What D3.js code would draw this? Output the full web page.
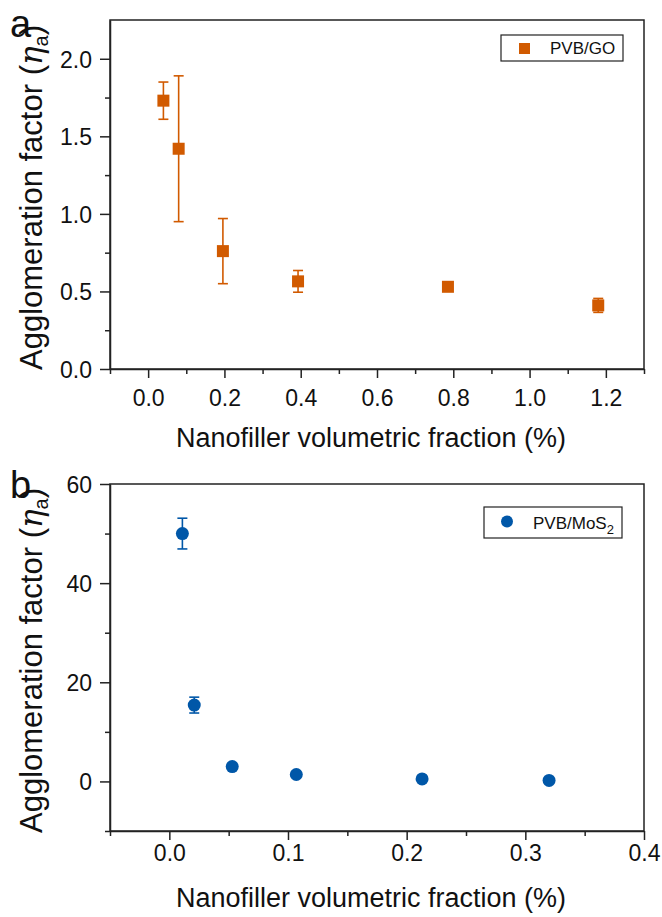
<!DOCTYPE html>
<html>
<head>
<meta charset="utf-8">
<script src="https://cdn.jsdelivr.net/npm/d3@7"></script>
<style>
  body { margin: 0; background: #fff; }
  svg { display: block; font-family: "Liberation Sans", Arial, sans-serif; }
</style>
</head>
<body>
<script>
// panel a: PVB/GO
const goFraction = [0.04, 0.08, 0.196, 0.393, 0.786, 1.18];
const goFactor = [1.73, 1.42, 0.76, 0.565, 0.53, 0.41];
const goError = [0.12, 0.47, 0.21, 0.07, 0.02, 0.045];
const goXTicks = [0, 0.2, 0.4, 0.6, 0.8, 1.0, 1.2];
const goXMinor = [-0.1, 0.1, 0.3, 0.5, 0.7, 0.9, 1.1, 1.3];
const goYTicks = [0, 0.5, 1.0, 1.5, 2.0];
const goYMinor = [0.25, 0.75, 1.25, 1.75];

// panel b: PVB/MoS2
const mosFraction = [0.011, 0.021, 0.053, 0.107, 0.213, 0.32];
const mosFactor = [50, 15.4, 3.0, 1.4, 0.5, 0.2];
const mosError = [3.1, 1.6, 0.5, 0.4, 0.3, 0.3];
const mosXTicks = [0, 0.1, 0.2, 0.3, 0.4];
const mosXMinor = [-0.05, 0.05, 0.15, 0.25, 0.35];
const mosYTicks = [0, 20, 40, 60];
const mosYMinor = [-10, 10, 30, 50];

const W = 662, H = 917;
const svg = d3.select("body").append("svg").attr("width", W).attr("height", H);

drawPanel({
    letter: "a", letterY: 37,
    left: 110, right: 644, top: 20, bottom: 369,
    xDomain: [-0.1, 1.3], yDomain: [0, 2.25],
    xTicks: goXTicks, xMinor: goXMinor, yTicks: goYTicks, yMinor: goYMinor,
    xFormat: d3.format(".1f"), yFormat: d3.format(".1f"),
    xs: goFraction, ys: goFactor, errs: goError,
    color: "#d15a00", shape: "square",
    tickLabelDy: 37, titleDy: 78,
    legend: { x: 501, y: 35, w: 122, h: 26, label: "PVB/GO", sub: null }
});

drawPanel({
    letter: "b", letterY: 498,
    left: 110, right: 644, top: 484, bottom: 831,
    xDomain: [-0.05, 0.4], yDomain: [-10, 60],
    xTicks: mosXTicks, xMinor: mosXMinor, yTicks: mosYTicks, yMinor: mosYMinor,
    xFormat: d3.format(".1f"), yFormat: d3.format("d"),
    xs: mosFraction, ys: mosFactor, errs: mosError,
    color: "#0057a8", shape: "circle",
    tickLabelDy: 30, titleDy: 76,
    legend: { x: 484, y: 507, w: 138, h: 31, label: "PVB/MoS", sub: "2" }
});

function drawPanel(p) {
    const x = d3.scaleLinear().domain(p.xDomain).range([p.left, p.right]);
    const y = d3.scaleLinear().domain(p.yDomain).range([p.bottom, p.top]);
    const g = svg.append("g");

    // frame
    g.append("rect")
        .attr("x", p.left).attr("y", p.top)
        .attr("width", p.right - p.left).attr("height", p.bottom - p.top)
        .attr("fill", "none").attr("stroke", "#222").attr("stroke-width", 1.5);

    // bottom axis
    const xAxis = g.append("g").attr("transform", `translate(0,${p.bottom})`)
        .call(d3.axisBottom(x).tickValues(p.xTicks).tickFormat(p.xFormat).tickSize(9).tickSizeOuter(0));
    g.append("g").attr("transform", `translate(0,${p.bottom})`)
        .call(d3.axisBottom(x).tickValues(p.xMinor).tickFormat("").tickSize(5).tickSizeOuter(0))
        .call(a => a.select(".domain").remove());
    xAxis.selectAll("text").attr("y", p.tickLabelDy).attr("dy", 0);

    // left axis
    const yAxis = g.append("g").attr("transform", `translate(${p.left},0)`)
        .call(d3.axisLeft(y).tickValues(p.yTicks).tickFormat(p.yFormat).tickSize(10).tickSizeOuter(0));
    g.append("g").attr("transform", `translate(${p.left},0)`)
        .call(d3.axisLeft(y).tickValues(p.yMinor).tickFormat("").tickSize(5).tickSizeOuter(0))
        .call(a => a.select(".domain").remove());
    yAxis.selectAll("text").attr("x", -18).attr("dy", "0.36em");

    g.selectAll(".domain").attr("stroke", "#222").attr("stroke-width", 1.5);
    g.selectAll(".tick line").attr("stroke", "#222").attr("stroke-width", 1.5);
    g.selectAll(".tick text").attr("font-size", 23).attr("fill", "#111")
        .attr("font-family", "Liberation Sans, Arial, sans-serif");

    // axis titles
    g.append("text")
        .attr("x", (p.left + p.right) / 2 - 6).attr("y", p.bottom + p.titleDy)
        .attr("text-anchor", "middle").attr("font-size", 27).attr("fill", "#111")
        .text("Nanofiller volumetric fraction (%)");

    const yt = g.append("text")
        .attr("transform", `translate(42,${(p.top + p.bottom) / 2 + 3}) rotate(-90)`)
        .attr("text-anchor", "middle").attr("font-size", 31).attr("fill", "#111");
    yt.append("tspan").text("Agglomeration factor (");
    yt.append("tspan").attr("font-style", "italic").attr("font-family", "DejaVu Serif, serif").text("\u03b7");
    yt.append("tspan").attr("font-size", 20).attr("dy", 6).text("a");
    yt.append("tspan").attr("dy", -6).text(")");

    // panel letter
    g.append("text").attr("x", 10).attr("y", p.letterY)
        .attr("font-size", 38).attr("fill", "#111").text(p.letter);

    // error bars
    const pts = p.xs.map((v, i) => ({ x: v, y: p.ys[i], e: p.errs[i] }));
    const cap = 5;
    const eb = g.append("g").attr("stroke", p.color).attr("stroke-width", 1.6);
    eb.selectAll("line.v").data(pts).join("line").attr("class", "v")
        .attr("x1", d => x(d.x)).attr("x2", d => x(d.x))
        .attr("y1", d => y(d.y - d.e)).attr("y2", d => y(d.y + d.e));
    eb.selectAll("line.t").data(pts).join("line").attr("class", "t")
        .attr("x1", d => x(d.x) - cap).attr("x2", d => x(d.x) + cap)
        .attr("y1", d => y(d.y + d.e)).attr("y2", d => y(d.y + d.e));
    eb.selectAll("line.b").data(pts).join("line").attr("class", "b")
        .attr("x1", d => x(d.x) - cap).attr("x2", d => x(d.x) + cap)
        .attr("y1", d => y(d.y - d.e)).attr("y2", d => y(d.y - d.e));

    // markers
    if (p.shape === "square") {
        g.selectAll("rect.pt").data(pts).join("rect").attr("class", "pt")
            .attr("x", d => x(d.x) - 6).attr("y", d => y(d.y) - 6)
            .attr("width", 12).attr("height", 12).attr("fill", p.color);
    } else {
        g.selectAll("circle.pt").data(pts).join("circle").attr("class", "pt")
            .attr("cx", d => x(d.x)).attr("cy", d => y(d.y))
            .attr("r", 6.5).attr("fill", p.color);
    }

    // legend
    const L = p.legend;
    const lg = g.append("g");
    lg.append("rect").attr("x", L.x).attr("y", L.y).attr("width", L.w).attr("height", L.h)
        .attr("fill", "#fff").attr("stroke", "#222").attr("stroke-width", 1.2);
    const cy = L.y + L.h / 2;
    if (p.shape === "square") {
        lg.append("rect").attr("x", L.x + 18).attr("y", cy - 5).attr("width", 11).attr("height", 11)
            .attr("fill", p.color);
    } else {
        lg.append("circle").attr("cx", L.x + 23).attr("cy", cy - 1).attr("r", 6).attr("fill", p.color);
    }
    const lt = lg.append("text").attr("x", L.x + 49).attr("y", cy + 6)
        .attr("font-size", 17).attr("fill", "#111");
    lt.append("tspan").text(L.label);
    if (L.sub) lt.append("tspan").attr("font-size", 13).attr("dy", 5).text(L.sub);
}
</script>
</body>
</html>
